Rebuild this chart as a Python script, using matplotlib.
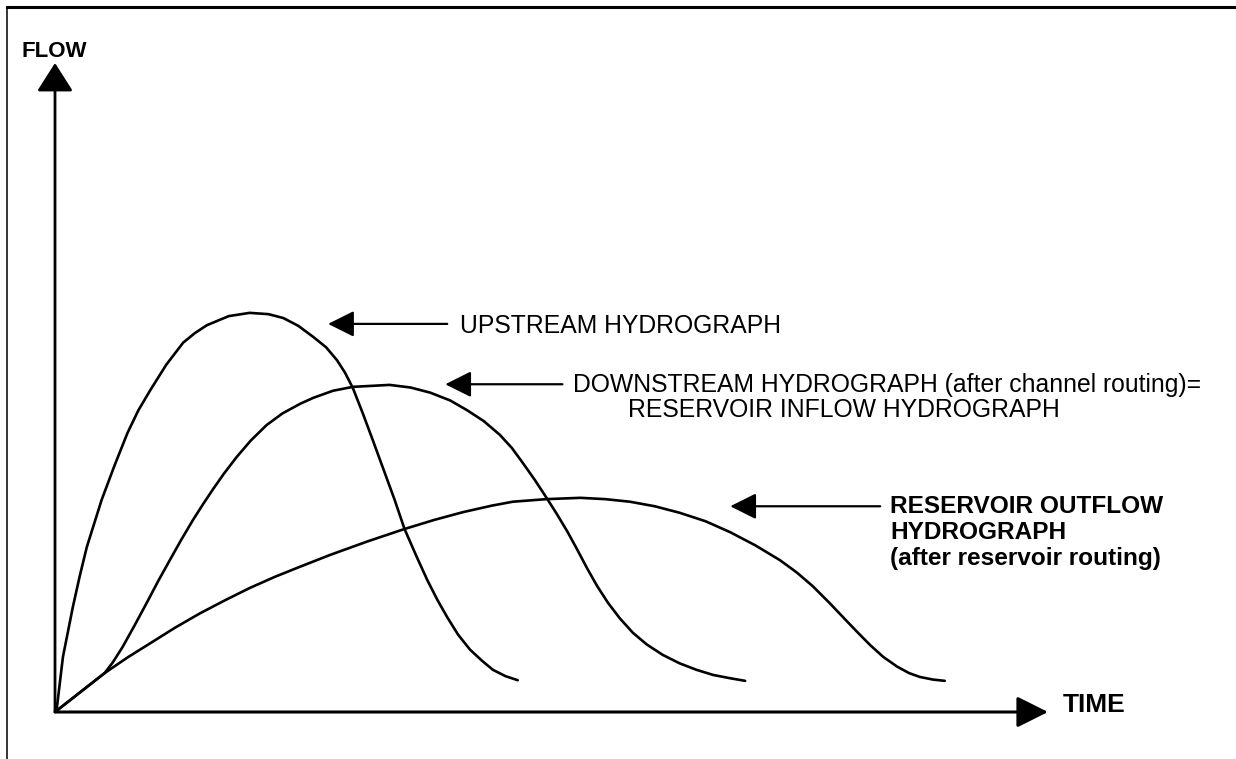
import matplotlib.pyplot as plt
from matplotlib.lines import Line2D

plt.rcParams['font.family'] = ['Liberation Sans', 'DejaVu Sans']

# hydrograph values (time, flow in arbitrary units)
up_time = [0, 0.2, 0.8, 1.8, 2.5, 3.2, 4.0, 4.7, 6.0, 7.3, 8.4, 9.6, 11.2, 12.9, 14.1,
           15.3, 17.5, 19.6, 21.5, 23.0, 24.5, 26.0, 27.3, 28.4, 29.2, 30.0, 31.0, 32.0,
           33.1, 34.2, 35.2, 36.4, 37.5, 38.5, 39.5, 40.6, 41.8, 43.0, 44.1, 45.4, 46.6]
up_flow = [0, 0.8, 8.5, 16.2, 21.0, 25.4, 29.3, 32.7, 38.0, 43.0, 46.5, 49.6, 53.5, 56.9, 58.4,
           59.6, 61.0, 61.5, 61.3, 60.7, 59.5, 57.8, 56.2, 54.2, 52.3, 49.9, 46.0, 41.9,
           37.3, 32.7, 28.2, 24.0, 20.3, 17.3, 14.6, 11.9, 9.6, 7.9, 6.5, 5.5, 4.9]

down_time = [0, 2.5, 5.0, 5.8, 6.8, 8.0, 9.3, 10.4, 11.6, 12.7, 13.9, 14.9, 15.9, 17.0, 18.3,
             19.7, 21.3, 22.9, 24.7, 26.0, 28.0, 30.0, 33.7, 35.8, 37.8, 39.8, 41.5, 43.2,
             44.8, 46.0, 47.1, 48.3, 49.5, 50.5, 51.6, 52.6, 53.6, 54.6, 55.7, 56.9, 58.2,
             59.6, 61.2, 62.9, 64.6, 66.3, 68.0, 69.5]
down_flow = [0, 3.0, 6.0, 7.6, 10.0, 13.3, 17.0, 20.2, 23.5, 26.5, 29.6, 32.0, 34.3, 36.7, 39.3,
             41.8, 44.2, 46.0, 47.5, 48.4, 49.5, 50.1, 50.4, 50.0, 49.2, 48.0, 46.5, 44.8,
             42.7, 40.7, 38.4, 35.8, 33.0, 30.6, 27.8, 25.0, 22.1, 19.4, 16.8, 14.4, 12.2,
             10.4, 8.8, 7.5, 6.5, 5.7, 5.2, 4.8]

out_time = [0, 2.5, 5.0, 7.3, 9.6, 12.1, 14.6, 17.1, 19.6, 22.1, 24.7, 27.7, 31.5, 35.2, 38.2,
            41.1, 44.0, 46.1, 49.5, 52.9, 55.4, 57.9, 60.4, 62.9, 65.5, 68.0, 70.5, 73.0,
            74.7, 76.3, 78.0, 79.8, 81.0, 82.1, 83.4, 84.8, 86.0, 87.1, 88.4, 89.6]
out_flow = [0, 3.0, 6.0, 8.4, 10.6, 13.0, 15.2, 17.2, 19.1, 20.8, 22.4, 24.2, 26.3, 28.2, 29.6,
            30.8, 31.8, 32.4, 32.8, 33.0, 32.8, 32.4, 31.7, 30.7, 29.4, 27.7, 25.7, 23.4,
            21.5, 19.4, 16.8, 13.9, 12.0, 10.3, 8.5, 7.0, 6.0, 5.4, 5.0, 4.8]

fig = plt.figure(figsize=(12.36, 7.59), dpi=100)
ax = fig.add_axes([55 / 1236, 47 / 759, 993 / 1236, 649 / 759])
ax.set_xlim(0, 100)
ax.set_ylim(0, 100)
ax.axis('off')

# page frame (top and left edge only)
fig.add_artist(Line2D([7 / 1236, 1], [1 - 7 / 759, 1 - 7 / 759], color='black', lw=2.2))
fig.add_artist(Line2D([7 / 1236, 7 / 1236], [0, 1 - 7 / 759], color='black', lw=1.1))

# axes drawn as arrows
ax.annotate('', xy=(1, 0), xytext=(0, 0), xycoords='axes fraction',
            arrowprops=dict(arrowstyle='-|>,head_length=1.2,head_width=0.6', mutation_scale=16,
                            lw=2.2, color='black', shrinkA=0, shrinkB=0))
ax.annotate('', xy=(0, 1), xytext=(0, 0), xycoords='axes fraction',
            arrowprops=dict(arrowstyle='-|>,head_length=1.1,head_width=0.7', mutation_scale=16,
                            lw=2.0, color='black', shrinkA=0, shrinkB=0))

for t, q in [(up_time, up_flow), (down_time, down_flow), (out_time, out_flow)]:
    ax.plot(t, q, color='black', lw=1.9, solid_capstyle='round', solid_joinstyle='round')

arrow = dict(arrowstyle='-|>,head_length=1.0,head_width=0.5', mutation_scale=16,
             lw=1.6, color='black', shrinkA=0, shrinkB=0)
ax.annotate('', xy=(27.5, 59.8), xytext=(39.5, 59.8), arrowprops=arrow)
ax.annotate('', xy=(39.3, 50.5), xytext=(51.1, 50.5), arrowprops=arrow)
ax.annotate('', xy=(68.0, 31.7), xytext=(83.1, 31.7), arrowprops=arrow)

fs = 17.8
ax.text(40.8, 59.4, 'UPSTREAM HYDROGRAPH', fontsize=fs, va='center', ha='left')
ax.text(52.2, 50.4, 'DOWNSTREAM HYDROGRAPH (after channel routing)=', fontsize=fs,
        va='center', ha='left')
ax.text(57.7, 46.5, 'RESERVOIR INFLOW HYDROGRAPH', fontsize=fs, va='center', ha='left')
ax.text(84.1, 31.6, 'RESERVOIR OUTFLOW', fontsize=17.6, fontweight='bold', va='center', ha='left')
ax.text(84.1, 27.7, 'HYDROGRAPH', fontsize=17.6, fontweight='bold', va='center', ha='left')
ax.text(84.1, 23.7, '(after reservoir routing)', fontsize=17.6, fontweight='bold',
        va='center', ha='left')

ax.text(-3.4, 101.8, 'FLOW', fontsize=16, fontweight='bold', va='center', ha='left')
ax.text(101.5, 1.1, 'TIME', fontsize=19, fontweight='bold', va='center', ha='left')

fig.savefig('out.png', dpi=100, facecolor='white')
